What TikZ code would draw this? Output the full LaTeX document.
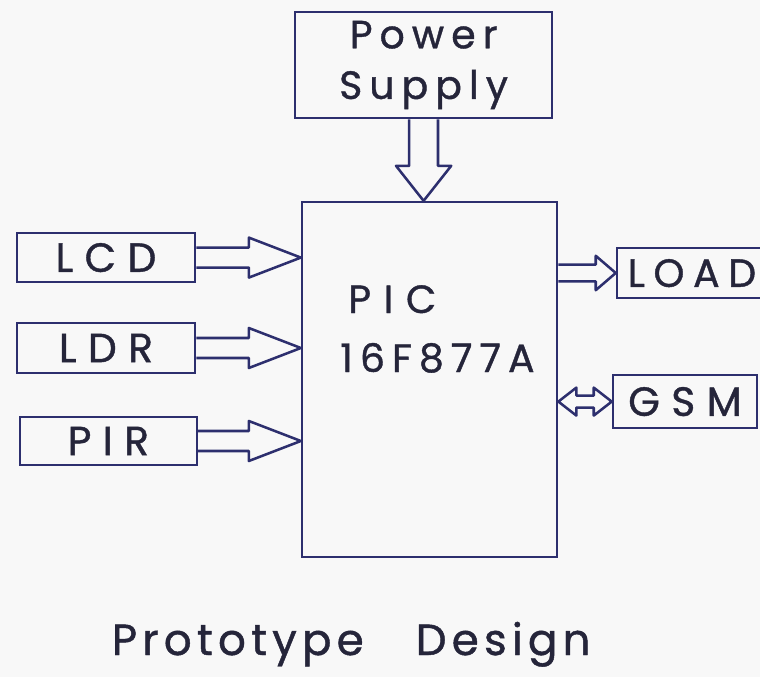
\documentclass[tikz,border=0pt]{standalone}
\usepackage{fontspec}
\setmainfont{Poppins}
\usetikzlibrary{calc}
\definecolor{PenBlue}{HTML}{2D2F6E}
\definecolor{PenInk}{HTML}{25253A}
\definecolor{Paper}{HTML}{F8F8F8}

\begin{document}
\begin{tikzpicture}[
  x=1cm, y=-1cm,
  shaft/.store in=\shaftw, headw/.store in=\headw, headl/.store in=\headl,
  shaft=0.25cm, headw=0.5cm, headl=1.3cm,
  box/.style={draw=PenBlue, line width=1.8pt, text=PenInk, align=center, inner sep=0pt,
    font=\fontsize{29}{36}\selectfont\addfontfeatures{LetterSpace=28, FakeBold=1}},
  tag/.style={text=PenInk, inner sep=0pt, font=\fontsize{28}{36}\selectfont\addfontfeatures{LetterSpace=18, FakeBold=1}},
  hollow/.style={draw=PenBlue, line width=1.8pt, line join=round, to path={
    ($(\tikztostart)!\shaftw!90:(\tikztotarget)$)
    -- ($($(\tikztotarget)!\headl!(\tikztostart)$)!\shaftw!90:(\tikztotarget)$)
    -- ($($(\tikztotarget)!\headl!(\tikztostart)$)!\headw!90:(\tikztotarget)$)
    -- (\tikztotarget)
    -- ($($(\tikztotarget)!\headl!(\tikztostart)$)!\headw!-90:(\tikztotarget)$)
    -- ($($(\tikztotarget)!\headl!(\tikztostart)$)!\shaftw!-90:(\tikztotarget)$)
    -- ($(\tikztostart)!\shaftw!-90:(\tikztotarget)$)
  }},
  hollowboth/.style={draw=PenBlue, line width=1.8pt, line join=round, to path={
    (\tikztostart)
    -- ($($(\tikztostart)!\headl!(\tikztotarget)$)!\headw!90:(\tikztotarget)$)
    -- ($($(\tikztostart)!\headl!(\tikztotarget)$)!\shaftw!90:(\tikztotarget)$)
    -- ($($(\tikztotarget)!\headl!(\tikztostart)$)!\shaftw!90:(\tikztotarget)$)
    -- ($($(\tikztotarget)!\headl!(\tikztostart)$)!\headw!90:(\tikztotarget)$)
    -- (\tikztotarget)
    -- ($($(\tikztotarget)!\headl!(\tikztostart)$)!\headw!-90:(\tikztotarget)$)
    -- ($($(\tikztotarget)!\headl!(\tikztostart)$)!\shaftw!-90:(\tikztotarget)$)
    -- ($($(\tikztostart)!\headl!(\tikztotarget)$)!\shaftw!-90:(\tikztotarget)$)
    -- ($($(\tikztostart)!\headl!(\tikztotarget)$)!\headw!-90:(\tikztotarget)$)
    -- cycle
  }}
]
  \fill[Paper] (0,0) rectangle (19,16.925);
  \clip (0,0) rectangle (19,16.925);

  % blocks
  \node[box, minimum width=6.425cm, minimum height=2.65cm, font=\fontsize{28}{36}\selectfont\addfontfeatures{LetterSpace=18, FakeBold=1}] (power) at (10.59, 1.625) {Power\\Supply};
  \node[box, minimum width=6.375cm, minimum height=8.875cm] (pic) at (10.74, 9.49) {};
  \node[tag, anchor=base west, font=\fontsize{28}{36}\selectfont\addfontfeatures{LetterSpace=32, FakeBold=1}] (picname) at (8.7, 7.825) {PIC};
  \node[tag, anchor=base west] (picpart) at (8.5, 9.3) {16F877A};

  \node[box, minimum width=4.45cm, minimum height=1.225cm] (lcd) at (2.65, 6.44) {LCD};
  \node[box, minimum width=4.45cm, minimum height=1.25cm] (ldr) at (2.65, 8.7) {LDR};
  \node[box, minimum width=4.425cm, minimum height=1.2cm] (pir) at (2.71, 11.025) {PIR};

  \node[box, minimum width=3.75cm, minimum height=1.25cm, text depth=0pt, align=right, font=\fontsize{28}{36}\selectfont\addfontfeatures{LetterSpace=22, FakeBold=1}] (load) at (17.3, 6.825) {LOAD};
  \node[box, minimum width=3.6cm, minimum height=1.325cm] (gsm) at (17.125, 10.04) {GSM};

  % block arrows
  \draw[hollow, shaft=0.36cm, headw=0.69cm, headl=0.875cm] (power.south) to (power.south |- pic.north);
  \draw[hollow] (lcd.east) to (lcd.east -| pic.west);
  \draw[hollow] (ldr.east) to (ldr.east -| pic.west);
  \draw[hollow] (pir.east) to (pir.east -| pic.west);
  \draw[hollow, shaft=0.21cm, headw=0.43cm, headl=0.5cm] (pic.east |- load.west) to (load.west);
  \draw[hollowboth, shaft=0.15cm, headw=0.35cm, headl=0.45cm] (pic.east |- gsm.west) to (gsm.west);

  \node[text=PenInk, anchor=base, font=\fontsize{31}{36}\selectfont\addfontfeatures{LetterSpace=12, FakeBold=1}] (caption) at (8.78, 16.375) {Prototype\hspace{1.3cm}Design};
\end{tikzpicture}
\end{document}
